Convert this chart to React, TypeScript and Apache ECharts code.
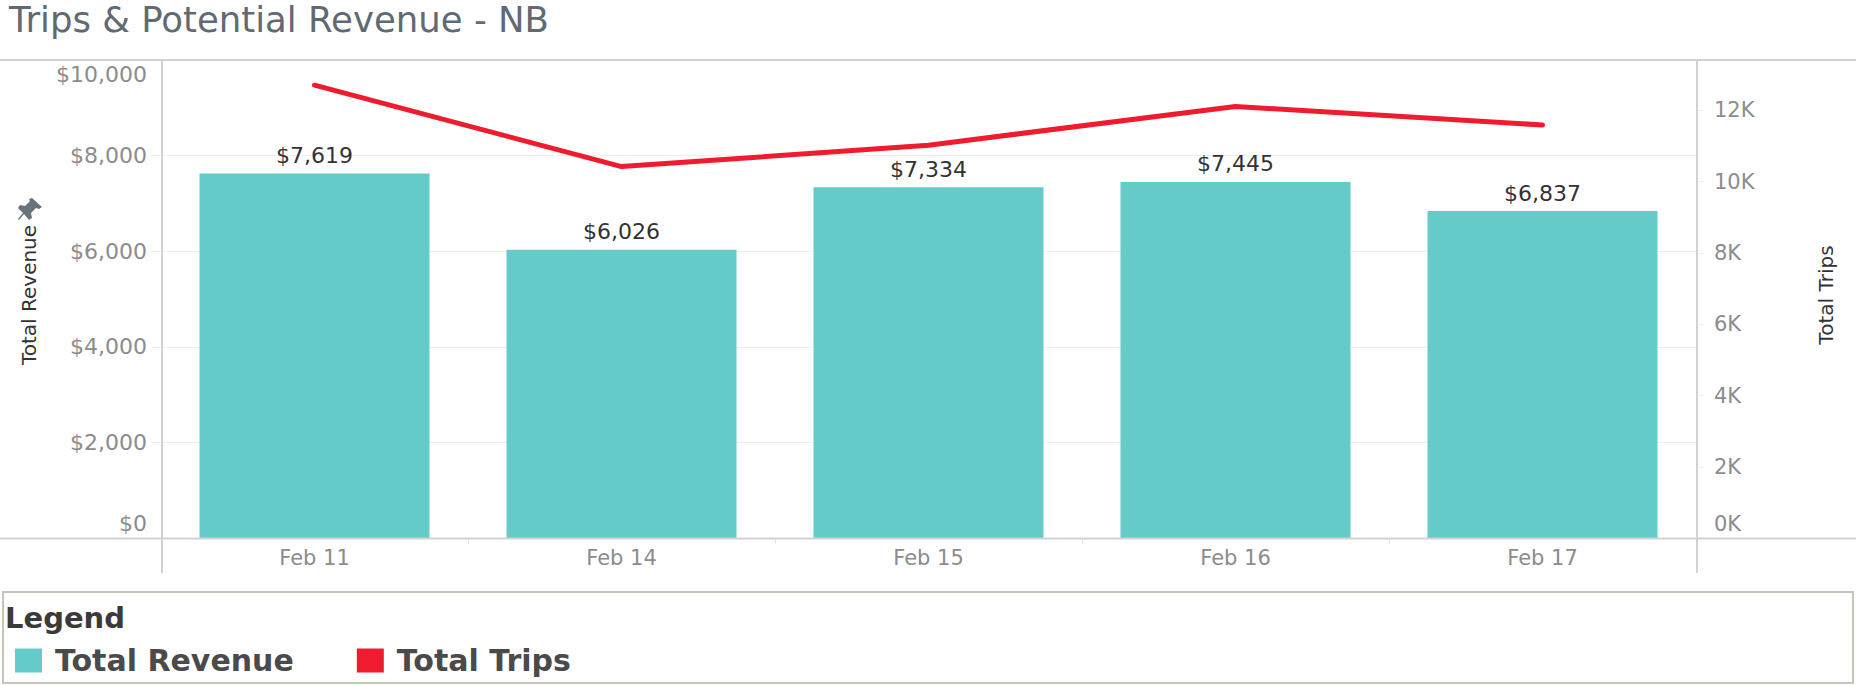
import React, { useEffect, useRef } from "react";
import * as echarts from "echarts";

const categories = ["Feb 11", "Feb 14", "Feb 15", "Feb 16", "Feb 17"];
const totalRevenue = [7619, 6026, 7334, 7445, 6837];
const totalTrips = [12700, 10420, 11020, 12105, 11585];
const titleText = "Trips & Potential Revenue - NB";
const FONT = "'DejaVu Sans', sans-serif";
const TEAL = "#64cbc9";
const RED = "#ee1c2e";
const PIN =
  "M14 0 L24 9 L21 11 L18 10 L13 15 L14 20 L11 22 L6 16 L1 22 L0 21 L5 15 L0 10 L2 7 L7 8 L12 3 L11 1 Z";

echarts.graphic.registerShape("pin", echarts.graphic.extendPath(PIN, {}));

export default function App() {
  const ref = useRef<HTMLDivElement>(null);
  useEffect(() => {
    document.body.style.margin = "0";
    const chart = echarts.init(ref.current!, null, { renderer: "svg" });
    chart.setOption({
      animation: false,
      backgroundColor: "#ffffff",
      textStyle: { fontFamily: FONT },
      title: {
        text: titleText,
        left: 9,
        top: 1,
        padding: 0,
        textStyle: { fontFamily: FONT, fontSize: 35.5, fontWeight: 400, color: "#5f6a74" },
      },
      legend: {
        left: 15,
        top: 645.5,
        padding: 0,
        itemWidth: 27,
        itemHeight: 24,
        itemGap: 63,
        icon: "rect",
        data: ["Total Revenue", "Total Trips"],
        textStyle: {
          fontFamily: FONT,
          fontSize: 30,
          fontWeight: 700,
          color: "#4a4a4a",
          padding: [0, 0, 0, 8],
        },
      },
      grid: { left: 161, right: 160, top: 59.5, height: 479 },
      xAxis: {
        type: "category",
        data: categories,
        axisLine: { show: false },
        axisTick: { show: true, length: 5, lineStyle: { color: "#e4e4e4" } },
        axisLabel: { color: "#8c8c8c", fontSize: 21, margin: 9 },
      },
      yAxis: [
        {
          type: "value",
          min: 0,
          max: 10000,
          interval: 2000,
          name: "Total Revenue",
          nameLocation: "middle",
          nameRotate: 90,
          nameGap: 122,
          nameTextStyle: { color: "#333333", fontSize: 20, padding: [0, 0, 0, 8] },
          axisLine: { show: false },
          axisTick: { show: true, length: 10, lineStyle: { color: "#efefef" } },
          splitLine: { show: true, lineStyle: { color: "#efefef" } },
          axisLabel: {
            color: "#8c8c8c",
            fontSize: 22,
            lineHeight: 30,
            margin: 14,
            formatter: (v: number) => "$" + v.toLocaleString("en-US"),
            verticalAlignMinLabel: "bottom",
            verticalAlignMaxLabel: "top",
          },
        },
        {
          type: "value",
          min: 0,
          max: 13420,
          interval: 2000,
          position: "right",
          name: "Total Trips",
          nameLocation: "middle",
          nameRotate: 90,
          nameGap: 120,
          nameTextStyle: { color: "#333333", fontSize: 20, padding: [0, 0, 0, 8] },
          axisLine: { show: false },
          axisTick: { show: true, length: 8, lineStyle: { color: "#efefef" } },
          splitLine: { show: false },
          axisLabel: {
            color: "#8c8c8c",
            fontSize: 21,
            lineHeight: 30,
            margin: 18,
            showMaxLabel: false,
            formatter: (v: number) => v / 1000 + "K",
            verticalAlignMinLabel: "bottom",
          },
        },
      ],
      series: [
        {
          name: "Total Revenue",
          type: "bar",
          data: totalRevenue,
          barWidth: 230,
          itemStyle: { color: TEAL },
          label: {
            show: true,
            position: "top",
            distance: 7,
            color: "#333333",
            fontSize: 22,
            formatter: (p: any) => "$" + p.value.toLocaleString("en-US"),
          },
        },
        {
          name: "Total Trips",
          type: "line",
          yAxisIndex: 1,
          data: totalTrips,
          symbol: "none",
          lineStyle: { color: RED, width: 5, cap: "round" },
          itemStyle: { color: RED },
        },
      ],
      graphic: [
        { type: "line", silent: true, z: 20, shape: { x1: 0, y1: 60, x2: 1856, y2: 60 }, style: { stroke: "#d2d2d2", lineWidth: 2 } },
        { type: "line", silent: true, z: 20, shape: { x1: 0, y1: 538.5, x2: 1856, y2: 538.5 }, style: { stroke: "#d2d2d2", lineWidth: 2 } },
        { type: "line", silent: true, z: 20, shape: { x1: 162, y1: 60, x2: 162, y2: 573 }, style: { stroke: "#d2d2d2", lineWidth: 2 } },
        { type: "line", silent: true, z: 20, shape: { x1: 1697, y1: 60, x2: 1697, y2: 573 }, style: { stroke: "#d2d2d2", lineWidth: 2 } },
        { type: "rect", silent: true, z: -1, shape: { x: 3, y: 592, width: 1850, height: 91 }, style: { fill: "#ffffff", stroke: "#c8c5b8", lineWidth: 2 } },
        { type: "text", silent: true, x: 5, y: 603, style: { text: "Legend", fill: "#3a3a3a", font: "700 29px 'DejaVu Sans', sans-serif" } },
        { type: "pin", silent: true, x: 18, y: 198, style: { fill: "#69737d" } },
      ],
    });
    return () => chart.dispose();
  }, []);
  return <div ref={ref} style={{ width: 1856, height: 686 }} />;
}
